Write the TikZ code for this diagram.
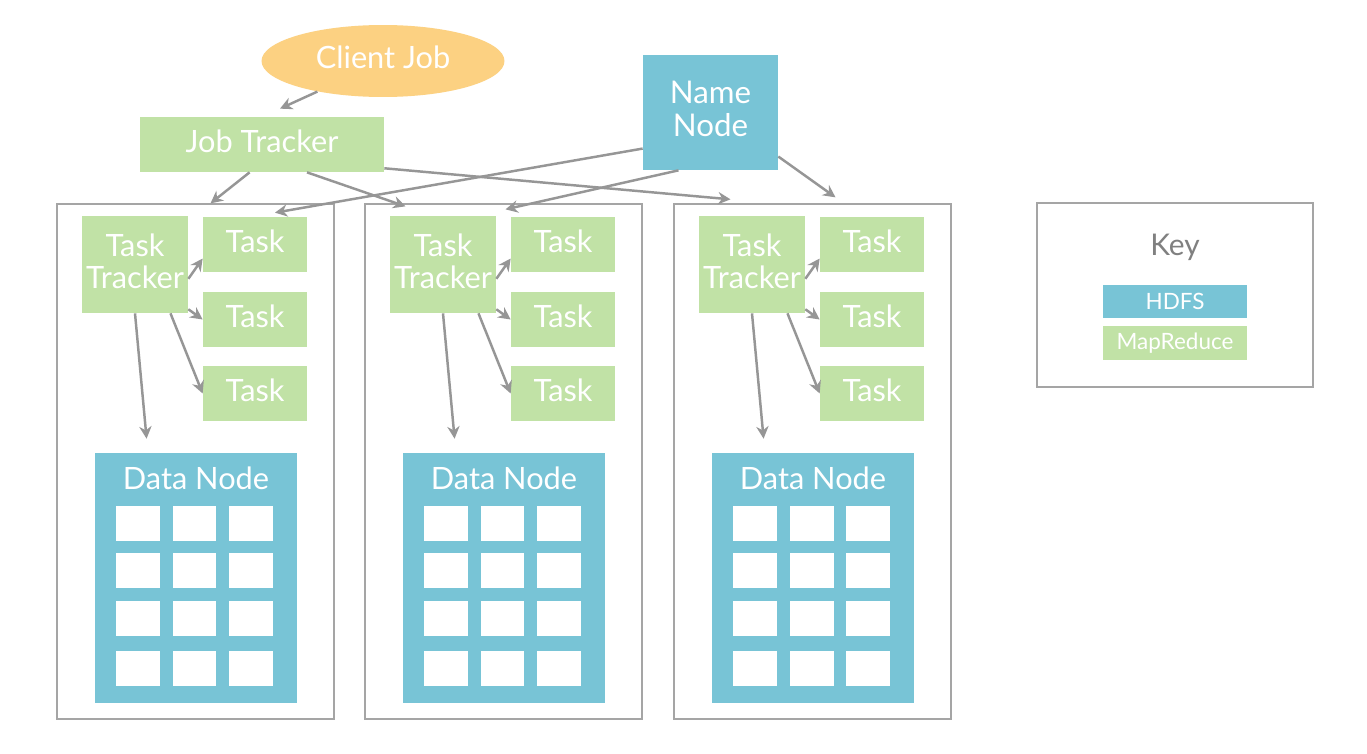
\documentclass[tikz,border=0pt]{standalone}
\usepackage{fontspec}
\setmainfont{Lato}
\usetikzlibrary{arrows.meta,shapes.geometric,calc}

\definecolor{mrgreen}{RGB}{193,226,166}
\definecolor{hdfsblue}{RGB}{120,196,214}
\definecolor{joborange}{RGB}{252,209,130}
\definecolor{arrowgray}{RGB}{150,150,150}
\definecolor{framegray}{RGB}{165,165,165}

\begin{document}
\begin{tikzpicture}[
    x=0.02cm, y=-0.02cm, % pixel-like units, y downwards
    greenbox/.style = {fill=mrgreen, text=white, inner sep=0, align=center, text depth=0.14cm, font=\fontsize{17.5}{18.5}\selectfont},
    bluebox/.style = {fill=hdfsblue, text=white, inner sep=0, align=center, text depth=0.14cm, font=\fontsize{17.5}{18.5}\selectfont},
    rackbox/.style = {draw=framegray, line width=0.8pt, inner sep=0},
    line/.style = {-{Stealth[length=7pt,width=7pt]}, draw=arrowgray, line width=1.4pt},
    cell/.style = {fill=white, inner sep=0, minimum width=0.88cm, minimum height=0.7cm}
    ]
    \tikzstyle{task_style} = [greenbox, minimum width=2.08cm, minimum height=1.1cm]
    \tikzstyle{key_style} = [inner sep=0, text=white, minimum width=2.88cm, minimum height=0.67cm, font=\fontsize{12.8}{14}\selectfont]
    \useasboundingbox[fill=white] (0,0) rectangle (1367,754);

    \node[ellipse, fill=joborange, text=white, inner sep=0, text depth=0.14cm, minimum width=4.86cm, minimum height=1.44cm, font=\fontsize{17.5}{19}\selectfont] (cj) at (383,61) {Client Job};
    \node[greenbox, minimum width=4.88cm, minimum height=1.1cm] (jt) at (262,144.5) {Job Tracker};
    \node[bluebox, minimum width=2.7cm, minimum height=2.3cm, font=\fontsize{17.8}{18.8}\selectfont] (nn) at (710.5,112.5) {Name\\Node};

    % one rack per data node
    \foreach \r/\dx in {1/0,2/308,3/617}{
        \node[rackbox, minimum width=5.54cm, minimum height=10.3cm] (rack\r) at (195.5+\dx,461.5) {};
        \node[greenbox, minimum width=2.12cm, minimum height=1.94cm] (tt\r) at (135+\dx,264.5) {Task\\Tracker};
        \node[task_style] (task\r-1) at (255+\dx,244.5) {Task};
        \node[task_style] (task\r-2) at (255+\dx,319.5) {Task};
        \node[task_style] (task\r-3) at (255+\dx,393.5) {Task};
        \node[bluebox, minimum width=4.04cm, minimum height=5cm] (dn\r) at (196+\dx,578) {};
        \node[text=white, inner sep=0, font=\fontsize{17.5}{19}\selectfont] (dnlabel\r) at (196+\dx,478) {Data Node};
        \foreach \row/\y in {1/523.5,2/570.5,3/618.5,4/668.5}{
            \foreach \col/\x in {1/138,2/194.5,3/251}{
                \node[cell] (cell\r-\row-\col) at (\x+\dx,\y) {};
            }
        }
        \draw[line] (tt\r.-15) -- (task\r-1.195);
        \draw[line] (tt\r.-40) -- (task\r-2.west);
        \draw[line] (tt\r.-54) -- (task\r-3.west);
        \draw[line, shorten >=8pt] (tt\r.south) -- (dn\r.111);
    }

    \draw[line] (cj.205) -- ($(jt.north)+(18,-8)$);
    \draw[line] (jt.246) -- ($(rack1.north)+(15,0)$);
    \draw[line] ($(jt.south)+(45,0)$) -- ($(rack2.north)+(-98,3)$);
    \draw[line] (jt.-11) -- ($(rack3.north)+(-82,-4)$);
    \draw[line] (nn.208) -- ($(task1-1.north)+(20,-4)$);
    \draw[line] ($(nn.south)+(-32,0)$) -- ($(rack2.north)+(2,6)$);
    \draw[line] (nn.-33) -- ($(rack3.north)+(23,-6)$);

    % key
    \node[rackbox, minimum width=5.52cm, minimum height=3.68cm] (key) at (1175,295) {};
    \node[text=black!50, font=\fontsize{17}{19}\selectfont] (keytitle) at (1175,247) {Key};
    \node[key_style, fill=hdfsblue] (keyhdfs) at (1175,301.5) {HDFS};
    \node[key_style, fill=mrgreen] (keymr) at (1175,343) {MapReduce};
\end{tikzpicture}
\end{document}
